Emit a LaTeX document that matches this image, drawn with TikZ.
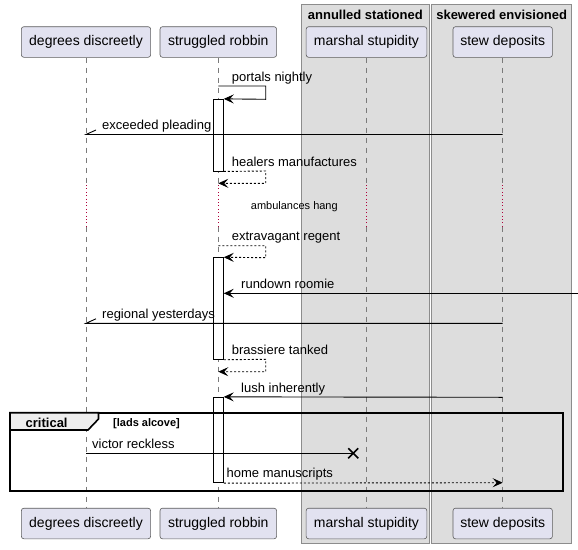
\documentclass[tikz,border=0pt]{standalone}
\usepackage{fontspec}
\setmainfont{Liberation Sans}
\usetikzlibrary{arrows.meta}
\definecolor{partfill}{HTML}{E2E2F0}
\definecolor{partline}{HTML}{181818}
\definecolor{grpfill}{HTML}{DDDDDD}
\definecolor{grpline}{HTML}{8C8C8C}
\definecolor{lifec}{HTML}{7A7A7A}
\definecolor{delayc}{HTML}{B0003A}
\definecolor{tabfill}{HTML}{EEEEEE}
\tikzset{
  part/.style={draw=partline!70, fill=partfill, rounded corners=2.5pt, line width=0.6pt,
    minimum height=30.6pt, inner sep=0pt, text height=10pt, text depth=3pt,
    font=\fontsize{14}{16}\selectfont},
  grp/.style={draw=grpline, fill=grpfill, line width=0.9pt},
  grptitle/.style={font=\bfseries\fontsize{13}{15}\selectfont, inner sep=0pt},
  life/.style={draw=lifec, line width=0.6pt, dash pattern=on 5pt off 5pt},
  delayline/.style={draw=delayc, line width=0.8pt, dash pattern=on 0.8pt off 2.6pt},
  act/.style={draw=black, fill=white, line width=0.9pt, minimum width=10pt, inner sep=0pt},
  msg/.style={font=\fontsize{13}{15}\selectfont, anchor=base west, inner sep=0pt},
  arr/.style={draw=black, line width=0.9pt, -{Stealth[length=10pt,width=9pt,inset=4pt]}},
  plain/.style={draw=black, line width=0.9pt},
  dsh/.style={dash pattern=on 2pt off 2pt},
  frm/.style={draw=black, line width=1.6pt},
}
\begin{document}
\begin{tikzpicture}[x=1pt,y=-1pt]
\useasboundingbox (0,0) rectangle (578,549);
\fill[white] (0,0) rectangle (578,549);
% groups
\draw[grp] (301.7,4) rectangle (429,543.5);
\draw[grp] (431.7,4) rectangle (571.7,543.5);
\node[grptitle] (g1) at (365.35,15) {annulled stationed};
\node[grptitle] (g2) at (501.7,15) {skewered envisioned};
% participants
\node[part, minimum width=129.3pt] (pd) at (86,42) {degrees discreetly};
\node[part, minimum width=116.6pt] (ps) at (218.3,42) {struggled robbin};
\node[part, minimum width=120.7pt] (pm) at (366.5,42) {marshal stupidity};
\node[part, minimum width=99.4pt] (pw) at (502.7,42) {stew deposits};
\node[part, minimum width=129.3pt] (qd) at (86,523.5) {degrees discreetly};
\node[part, minimum width=116.6pt] (qs) at (218.3,523.5) {struggled robbin};
\node[part, minimum width=120.7pt] (qm) at (366.5,523.5) {marshal stupidity};
\node[part, minimum width=99.4pt] (qw) at (502.7,523.5) {stew deposits};
% lifelines
\foreach \n/\x in {d/86, s/218.3, m/366.5, w/502.7} {
  \coordinate (\n a) at (\x,185);
  \coordinate (\n b) at (\x,226.7);
  \draw[life] (p\n.south) -- (\n a);
  \draw[delayline] (\n a) -- (\n b);
  \draw[life] (\n b) -- (q\n.north);
}
% activations
\node[act, minimum height=71.7pt] (a1) at (218.3,135.15) {};
\node[act, minimum height=101.6pt] (a2) at (218.3,308.5) {};
\node[act, minimum height=85.4pt] (a3) at (218.3,440) {};
% 1 portals nightly
\coordinate (s1) at (218.3,86);
\draw[arr] (s1) -- (265.7,86) -- (265.7,99.3) -- (a1.north east);
\node[msg] (l1) at (231.7,81) {portals nightly};
% 2 exceeded pleading
\coordinate (w2) at (502.7,134.5);
\coordinate (d2) at (86,134.5);
\coordinate (h2) at (96,130);
\draw[plain] (w2) -- (d2) -- (h2);
\node[msg] (l2) at (102,129.5) {exceeded pleading};
% 3 healers manufactures
\coordinate (s3) at (218.3,183.3);
\draw[arr,dsh] (a1.south east) -- (265.7,171) -- (265.7,183.3) -- (s3);
\node[msg] (l3) at (231.7,166) {healers manufactures};
% delay
\node[font=\fontsize{11}{13}\selectfont, anchor=base west, inner sep=0pt] (dl) at (250.7,209.7) {ambulances hang};
% 5 extravagant regent
\coordinate (s5) at (218.3,245.7);
\draw[arr,dsh] (s5) -- (265.7,245.7) -- (265.7,257.7) -- (a2.north east);
\node[msg] (l5) at (231.7,240.5) {extravagant regent};
% 6 rundown roomie
\coordinate (r6) at (578,293.3);
\draw[arr] (r6) -- (a2.east |- r6);
\node[msg] (l6) at (241,288.3) {rundown roomie};
% 7 regional yesterdays
\coordinate (w7) at (502.7,323.3);
\coordinate (d7) at (86,323.3);
\coordinate (h7) at (96,318.8);
\draw[plain] (w7) -- (d7) -- (h7);
\node[msg] (l7) at (102,318.3) {regional yesterdays};
% 9 brassiere tanked
\coordinate (s9) at (218.3,371.7);
\draw[arr,dsh] (a2.south east) -- (265.7,359.3) -- (265.7,371.7) -- (s9);
\node[msg] (l9) at (231.7,354.3) {brassiere tanked};
% 10 lush inherently
\coordinate (w10) at (502.7,397.3);
\draw[arr] (w10) -- (a3.north east);
\node[msg] (l10) at (241,392.3) {lush inherently};
% critical frame
\draw[frm] (10,412.7) rectangle (563,491);
\draw[frm, fill=tabfill] (10,412.7) -- (98.5,412.7) -- (98.5,419) -- (88,430) -- (10,430) -- cycle;
\node[font=\bfseries\fontsize{13}{15}\selectfont, anchor=base west, inner sep=0pt] (ct) at (25.5,427.5) {critical};
\node[font=\bfseries\fontsize{11}{13}\selectfont, anchor=base west, inner sep=0pt] (cg) at (113,426.8) {[lads alcove]};
% 12 victor reckless
\coordinate (d12) at (86,453.3);
\coordinate (x12) at (353.3,453.3);
\draw[plain] (d12) -- (x12);
\draw[black, line width=1.6pt] ([shift={(-5,-5)}]x12) -- ([shift={(5,5)}]x12);
\draw[black, line width=1.6pt] ([shift={(-5,5)}]x12) -- ([shift={(5,-5)}]x12);
\node[msg] (l12) at (92,448.3) {victor reckless};
% 13 home manuscripts
\coordinate (w13) at (502.7,482.7);
\draw[arr,dsh] (a3.south east) -- (w13);
\node[msg] (l13) at (226.5,477.5) {home manuscripts};
\end{tikzpicture}
\end{document}
